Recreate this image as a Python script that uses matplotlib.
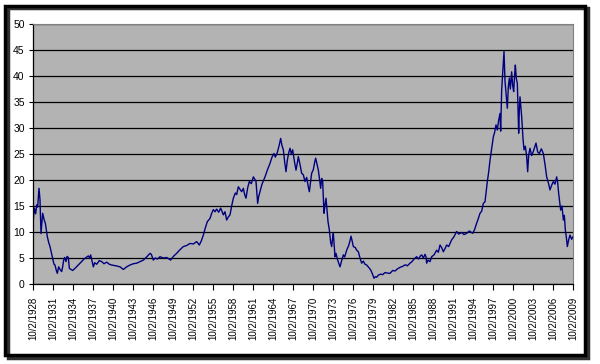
import matplotlib
matplotlib.use("Agg")
import matplotlib.pyplot as plt
from matplotlib.patches import Rectangle

# Dow / gold style ratio (decimal year, value)
years = [
    1928.75, 1928.95, 1929.15, 1929.3, 1929.45, 1929.65, 1929.8, 1929.95, 1930.2, 1930.45,
    1930.6, 1930.9, 1931.1, 1931.3, 1931.5, 1931.7, 1931.9, 1932.05, 1932.25, 1932.4,
    1932.6, 1932.8, 1933.05, 1933.2, 1933.35, 1933.5, 1933.7, 1933.85, 1934.05, 1934.2,
    1934.7, 1935.2, 1935.8, 1936.4, 1937.05, 1937.25, 1937.4, 1937.6, 1937.8, 1938.0,
    1938.3, 1938.7, 1939.05, 1939.4, 1939.8, 1940.2, 1940.55, 1941.2, 1941.8, 1942.3,
    1942.8, 1943.3, 1943.8, 1944.3, 1944.8, 1945.3, 1945.8, 1946.3, 1946.5, 1946.8,
    1947.1, 1947.4, 1947.8, 1948.3, 1948.8, 1949.4, 1949.8, 1950.3, 1950.8, 1951.3,
    1951.8, 1952.3, 1952.8, 1953.3, 1953.7, 1954.0, 1954.3, 1954.6, 1954.9, 1955.3,
    1955.55, 1955.8, 1956.05, 1956.3, 1956.6, 1956.9, 1957.3, 1957.55, 1957.8, 1958.05,
    1958.3, 1958.55, 1958.8, 1959.1, 1959.3, 1959.55, 1959.8, 1960.05, 1960.3, 1960.5,
    1960.7, 1960.95, 1961.2, 1961.5, 1961.8, 1962.0, 1962.2, 1962.45, 1962.6, 1962.8,
    1963.1, 1963.3, 1963.55, 1963.9, 1964.3, 1964.6, 1964.9, 1965.1, 1965.4, 1965.7,
    1965.9, 1966.1, 1966.3, 1966.5, 1966.7, 1966.9, 1967.1, 1967.3, 1967.5, 1967.7,
    1967.95, 1968.2, 1968.4, 1968.55, 1968.8, 1969.05, 1969.3, 1969.55, 1969.8, 1970.0,
    1970.2, 1970.4, 1970.55, 1970.8, 1971.0, 1971.15, 1971.35, 1971.55, 1971.75, 1971.9,
    1972.05, 1972.2, 1972.4, 1972.55, 1972.7, 1972.85, 1973.0, 1973.2, 1973.4, 1973.55,
    1973.7, 1973.8, 1973.95, 1974.05, 1974.2, 1974.45, 1974.8, 1975.05, 1975.3, 1975.5,
    1975.8, 1976.1, 1976.3, 1976.45, 1976.6, 1976.8, 1977.1, 1977.3, 1977.55, 1977.8,
    1978.05, 1978.3, 1978.55, 1978.8, 1979.1, 1979.4, 1979.65, 1979.9, 1980.1, 1980.3,
    1980.55, 1980.9, 1981.2, 1981.55, 1981.9, 1982.3, 1982.7, 1983.05, 1983.4, 1983.8,
    1984.2, 1984.6, 1984.9, 1985.3, 1985.6, 1985.9, 1986.3, 1986.6, 1986.85, 1987.05,
    1987.3, 1987.55, 1987.7, 1987.8, 1988.0, 1988.3, 1988.55, 1988.9, 1989.3, 1989.55,
    1989.8, 1990.05, 1990.3, 1990.55, 1990.8, 1991.1, 1991.55, 1991.9, 1992.3, 1992.6,
    1993.05, 1993.4, 1993.8, 1994.2, 1994.7, 1995.0, 1995.3, 1995.55, 1995.8, 1996.05,
    1996.3, 1996.55, 1996.9, 1997.1, 1997.3, 1997.55, 1997.8, 1998.0, 1998.2, 1998.4,
    1998.6, 1998.8, 1998.9, 1999.05, 1999.2, 1999.4, 1999.55, 1999.7, 1999.9, 2000.05,
    2000.2, 2000.35, 2000.55, 2000.7, 2000.85, 2001.0, 2001.1, 2001.25, 2001.4, 2001.6,
    2001.7, 2001.8, 2002.05, 2002.25, 2002.4, 2002.6, 2002.8, 2002.95, 2003.1, 2003.3,
    2003.55, 2003.8, 2004.0, 2004.2, 2004.45, 2004.7, 2005.0, 2005.3, 2005.55, 2005.8,
    2006.05, 2006.3, 2006.55, 2006.8, 2007.05, 2007.3, 2007.45, 2007.6, 2007.9, 2008.1,
    2008.3, 2008.45, 2008.6, 2008.75, 2008.9, 2009.1, 2009.3, 2009.55, 2009.75,
]
ratio = [
    11.7, 14.6, 13.5, 15.2, 14.8, 18.4, 16.2, 9.7, 13.6, 12.2,
    11.7, 9.1, 8.0, 7.2, 6.0, 4.9, 3.8, 3.65, 2.6, 2.05,
    3.3, 2.8, 2.4, 3.3, 4.6, 5.1, 4.3, 5.3, 5.1, 3.0,
    2.6, 3.2, 4.0, 4.8, 5.4, 5.0, 5.6, 4.4, 3.3, 4.1,
    3.8, 4.5, 4.3, 3.9, 4.2, 3.8, 3.65, 3.5, 3.3, 2.8,
    3.3, 3.65, 3.9, 4.0, 4.3, 4.6, 5.2, 5.9, 5.7, 4.6,
    5.0, 4.8, 5.25, 5.0, 5.1, 4.6, 5.3, 5.9, 6.6, 7.2,
    7.4, 7.8, 7.7, 8.15, 7.5, 8.3, 9.4, 10.8, 12.0, 12.6,
    13.6, 14.3, 13.9, 14.4, 13.8, 14.6, 13.3, 13.9, 12.3, 12.9,
    13.3, 15.0, 16.5, 17.5, 17.2, 18.7, 18.2, 17.75, 18.4, 17.2,
    16.5, 18.5, 19.7, 19.3, 20.6, 20.2, 19.7, 15.5, 16.8, 17.75,
    19.2, 19.8, 20.6, 21.9, 23.2, 24.4, 25.1, 24.4, 25.3, 26.8,
    28.0, 26.6, 25.8, 23.5, 21.6, 23.8, 25.2, 26.1, 25.0, 25.8,
    23.7, 21.9, 23.3, 24.5, 23.0, 21.3, 21.0, 19.7, 20.5, 19.0,
    17.75, 19.8, 21.3, 22.0, 23.4, 24.2, 23.0, 21.9, 20.0, 18.4,
    20.3, 19.7, 13.6, 15.2, 16.5, 14.2, 12.0, 10.4, 8.0, 7.2,
    8.9, 9.75, 7.0, 5.25, 5.9, 4.6, 3.3, 4.5, 5.6, 5.2,
    6.5, 7.4, 8.3, 9.2, 8.4, 7.2, 7.0, 6.5, 6.2, 5.0,
    4.0, 4.4, 3.8, 3.65, 3.2, 2.7, 2.0, 1.1, 1.4, 1.3,
    1.7, 1.9, 1.8, 2.2, 2.1, 2.05, 2.6, 2.5, 2.9, 3.2,
    3.4, 3.7, 3.5, 4.0, 4.3, 4.8, 5.25, 4.8, 5.4, 5.6,
    5.0, 5.7, 5.25, 4.0, 4.6, 4.3, 5.25, 5.6, 6.5, 6.1,
    7.5, 7.0, 6.2, 6.8, 7.5, 7.2, 8.5, 9.1, 10.1, 9.6,
    9.9, 9.5, 9.75, 10.2, 9.75, 10.5, 11.7, 12.6, 13.6, 14.0,
    15.5, 15.8, 19.7, 21.5, 23.8, 26.0, 28.3, 29.2, 30.6, 29.6,
    31.5, 32.8, 29.4, 37.3, 40.5, 44.7, 39.0, 36.7, 33.8, 38.0,
    39.6, 37.5, 40.8, 38.2, 37.0, 40.3, 42.1, 39.5, 38.6, 29.0,
    33.5, 36.0, 32.2, 28.0, 25.8, 26.5, 24.5, 21.6, 24.8, 26.1,
    24.7, 25.5, 26.3, 27.1, 25.4, 25.1, 26.0, 25.1, 23.0, 20.6,
    19.5, 18.1, 19.0, 19.7, 19.2, 20.6, 19.5, 17.4, 14.2, 15.0,
    12.3, 13.2, 10.4, 9.0, 7.2, 8.5, 9.4, 8.6, 9.1,
]

tick_years = list(range(1928, 2010, 3))
tick_labels = ["10/2/%d" % y for y in tick_years]

plt.rcParams['font.family'] = ['Liberation Sans', 'DejaVu Sans']

fig = plt.figure(figsize=(6, 3.64), dpi=100)
fig.patch.set_facecolor('white')
ax = fig.add_axes([33 / 600, 1 - 284 / 364, 540 / 600, 260 / 364])
ax.set_facecolor('#b3b3b3')

ax.plot(years, ratio, color='#000080', lw=1.0)

ax.set_xlim(1928.75, 2009.75)
ax.set_ylim(0, 50)
ax.set_yticks(range(0, 51, 5))
ax.set_xticks([y + 0.75 for y in tick_years])
ax.set_xticklabels(tick_labels, rotation=90, fontsize=7)
ax.tick_params(axis='y', labelsize=7.5, length=3, direction='out', pad=3)
ax.tick_params(axis='x', length=4, direction='out', pad=5)
ax.grid(axis='y', color='black', lw=0.9)
ax.set_axisbelow(True)

for s in ['top', 'right']:
    ax.spines[s].set_color('#808080')
    ax.spines[s].set_linewidth(0.8)
for s in ['left', 'bottom']:
    ax.spines[s].set_color('black')
    ax.spines[s].set_linewidth(0.9)

# outer frame with a little shadow, like the Excel chart border
shadow = Rectangle((8 / 600, 1 - 358 / 364), 580 / 600, 350 / 364, transform=fig.transFigure,
                   fill=False, ec='#303030', lw=2.5)
frame = Rectangle((5 / 600, 1 - 355 / 364), 580 / 600, 349 / 364, transform=fig.transFigure,
                  fill=False, ec='black', lw=2.5)
fig.patches.extend([shadow, frame])

fig.savefig("out.png", dpi=100)
